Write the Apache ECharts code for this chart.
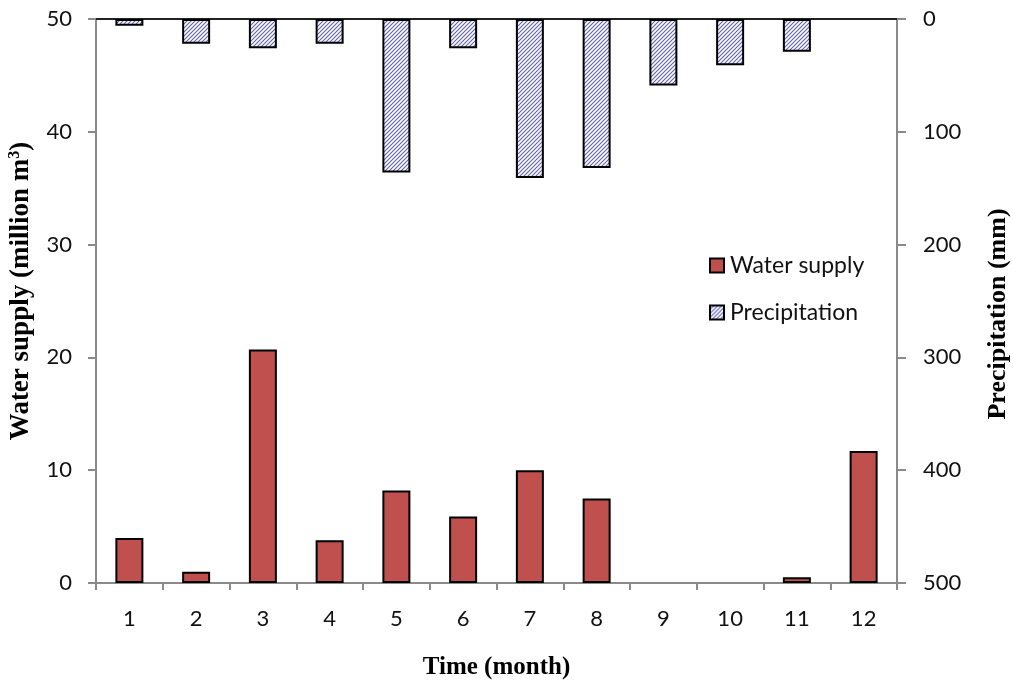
<!DOCTYPE html>
<html>
<head>
<meta charset="utf-8">
<script src="https://cdn.jsdelivr.net/npm/echarts@6/dist/echarts.min.js"></script>
<style>
  html, body { margin: 0; padding: 0; background: #fff; }
  #chart { width: 1013px; height: 682px; }
</style>
</head>
<body>
<div id="chart"></div>
<script>
// Monthly data
const months = ['1', '2', '3', '4', '5', '6', '7', '8', '9', '10', '11', '12'];
const waterSupply = [4.0, 1.0, 20.7, 3.8, 8.2, 5.9, 10.0, 7.5, 0, 0, 0.5, 11.7];   // million m3
const precipitation = [6, 22, 26, 22, 136, 26, 141, 132, 59, 41, 29, 0];            // mm
const leftTicks = [0, 10, 20, 30, 40, 50];
const rightTicks = [0, 100, 200, 300, 400, 500];

// Diagonal hatch fill for precipitation bars
function hatchPattern() {
  const c = document.createElement('canvas');
  const s = 4;
  c.width = s; c.height = s;
  const g = c.getContext('2d');
  g.fillStyle = '#ffffff';
  g.fillRect(0, 0, s, s);
  g.strokeStyle = '#5f5fb0';
  g.lineWidth = 1.1;
  g.beginPath();
  g.moveTo(-1, s + 1); g.lineTo(s + 1, -1);
  g.moveTo(-1, 1); g.lineTo(1, -1);
  g.moveTo(s - 1, s + 1); g.lineTo(s + 1, s - 1);
  g.stroke();
  return c;
}

const blankZero = arr => arr.map(v => (v === 0 ? null : v));

const axisFont = { fontFamily: 'Lato, "Open Sans", sans-serif', fontSize: 22, color: '#111' };
const titleFont = { fontFamily: '"Liberation Serif", "DejaVu Serif", serif', fontSize: 25, fontWeight: 'bold', color: '#000' };

const chart = echarts.init(document.getElementById('chart'), null, { renderer: 'canvas' });

chart.setOption({
  animation: false,
  backgroundColor: '#ffffff',
  grid: { left: 96, right: 116, top: 19, bottom: 99, containLabel: false, outerBoundsMode: 'none' },
  legend: {
    orient: 'vertical',
    left: 704,
    top: 249,
    itemWidth: 14,
    itemHeight: 14,
    itemGap: 24,
    icon: 'rect',
    textStyle: { fontFamily: 'Lato, "Open Sans", sans-serif', fontSize: 23, color: '#111', padding: [0, 0, 0, 1] },
    data: ['Water supply', 'Precipitation']
  },
  xAxis: [
    {
      type: 'category',
      data: months,
      position: 'bottom',
      boundaryGap: true,
      axisLine: { lineStyle: { color: '#8a8a8a', width: 2 } },
      axisTick: { show: true, length: 7, alignWithLabel: false, lineStyle: { color: '#8a8a8a', width: 2 } },
      axisLabel: { ...axisFont, margin: 25 },
      name: 'Time (month)',
      nameLocation: 'middle',
      nameGap: 72,
      nameTextStyle: titleFont
    },
    {
      type: 'category',
      data: months,
      position: 'top',
      axisLine: { lineStyle: { color: '#222', width: 2 } },
      axisTick: { show: false },
      axisLabel: { show: false }
    }
  ],
  yAxis: [
    {
      type: 'value',
      min: leftTicks[0],
      max: leftTicks[leftTicks.length - 1],
      interval: 10,
      position: 'left',
      splitLine: { show: false },
      axisLine: { show: true, lineStyle: { color: '#8a8a8a', width: 2 } },
      axisTick: { show: true, length: 8, lineStyle: { color: '#8a8a8a', width: 2 } },
      axisLabel: { ...axisFont, margin: 24 },
      name: 'Water supply (million m{sup|3})',
      nameLocation: 'middle',
      nameRotate: 90,
      nameGap: 61,
      nameTextStyle: {
        ...titleFont,
        fontSize: 27,
        padding: [0, 0, 0, 20],
        rich: {
          sup: { fontFamily: '"Liberation Serif", serif', fontSize: 16, fontWeight: 'bold', verticalAlign: 'top', padding: [0, 0, 12, 0] }
        }
      }
    },
    {
      type: 'value',
      min: rightTicks[0],
      max: rightTicks[rightTicks.length - 1],
      interval: 100,
      inverse: true,
      position: 'right',
      splitLine: { show: false },
      axisLine: { show: true, lineStyle: { color: '#8a8a8a', width: 2 } },
      axisTick: { show: true, length: 9, lineStyle: { color: '#8a8a8a', width: 2 } },
      axisLabel: { ...axisFont, margin: 26 },
      name: 'Precipitation (mm)',
      nameLocation: 'middle',
      nameRotate: 90,
      nameGap: 88,
      nameTextStyle: { ...titleFont, fontSize: 26, padding: [0, 26, 0, 0] }
    }
  ],
  series: [
    {
      name: 'Water supply',
      type: 'bar',
      xAxisIndex: 0,
      yAxisIndex: 0,
      barWidth: 28,
      barGap: '-100%',
      data: blankZero(waterSupply),
      itemStyle: { color: '#c0504d', borderColor: '#000', borderWidth: 2 }
    },
    {
      name: 'Precipitation',
      type: 'bar',
      xAxisIndex: 0,
      yAxisIndex: 1,
      barWidth: 28,
      barGap: '-100%',
      data: blankZero(precipitation),
      itemStyle: {
        color: { image: hatchPattern(), repeat: 'repeat' },
        borderColor: '#000',
        borderWidth: 2
      }
    }
  ]
});
</script>
</body>
</html>
